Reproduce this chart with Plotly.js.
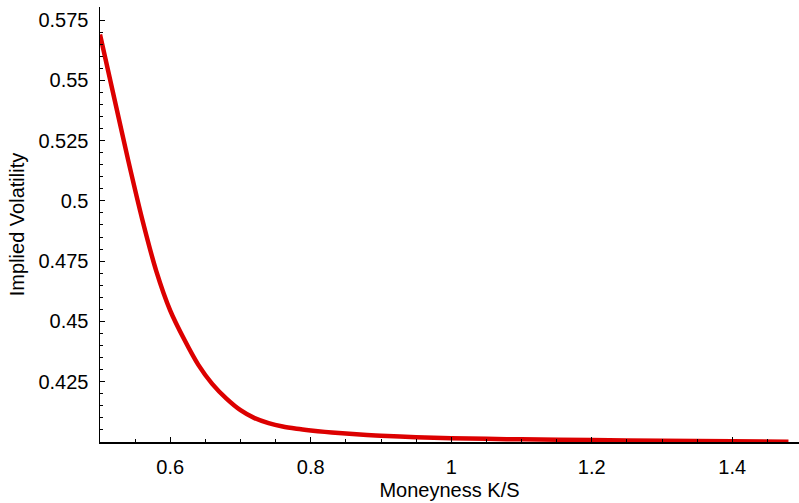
<!DOCTYPE html>
<html>
<head>
<meta charset="utf-8">
<script src="https://cdn.plot.ly/plotly-3.0.1.min.js"></script>
<style>html,body{margin:0;padding:0;background:#fff;}#chart{width:799px;height:503px;}</style>
</head>
<body>
<div id="chart"></div>
<script>
const moneyness = [0.50, 0.52, 0.54, 0.56, 0.58, 0.60, 0.62, 0.64, 0.66, 0.68, 0.70, 0.72, 0.74, 0.76, 0.78, 0.80, 0.82, 0.84, 0.86, 0.88, 0.90, 0.95, 1.00, 1.05, 1.10, 1.20, 1.30, 1.40, 1.48];
const impliedVol = [0.5690, 0.5430, 0.5170, 0.4925, 0.4710, 0.4545, 0.4425, 0.4320, 0.4240, 0.4180, 0.4132, 0.4099, 0.4078, 0.4064, 0.4055, 0.4048, 0.4042, 0.4037, 0.4033, 0.4029, 0.4026, 0.4020, 0.4016, 0.4013, 0.4011, 0.4008, 0.4005, 0.4003, 0.4001];
const xTickVals = [0.6, 0.8, 1.0, 1.2, 1.4];
const xTickText = ["0.6", "0.8", "1", "1.2", "1.4"];
const yTickVals = [0.425, 0.45, 0.475, 0.5, 0.525, 0.55, 0.575];
const yTickText = ["0.425", "0.45", "0.475", "0.5", "0.525", "0.55", "0.575"];

const font = "Liberation Sans, Arial, sans-serif";
const trace = {
  x: moneyness, y: impliedVol, type: 'scatter', mode: 'lines',
  line: {color: 'rgb(220,0,0)', width: 4.5, shape: 'spline', smoothing: 0.8},
  hoverinfo: 'skip'
};
const layout = {
  width: 799, height: 503,
  margin: {l: 100, r: 0, t: 7, b: 61},
  paper_bgcolor: '#fff', plot_bgcolor: '#fff',
  showlegend: false,
  font: {family: font, size: 20, color: '#000'},
  xaxis: {
    range: [0.5, 1.495], showgrid: false, zeroline: false,
    showline: true, linecolor: '#000', linewidth: 1.5,
    ticks: 'inside', ticklen: 5, tickwidth: 1, tickcolor: '#000',
    tickvals: xTickVals, ticktext: xTickText,
    tickfont: {family: font, size: 20, color: '#000'},
    ticklabelstandoff: 6,
    minor: {dtick: 0.05, tick0: 0.5, ticks: 'inside', ticklen: 3, tickwidth: 1, tickcolor: '#000', showgrid: false},
    title: {text: 'Moneyness K/S', font: {family: font, size: 20, color: '#000'}, standoff: 6}
  },
  yaxis: {
    range: [0.4, 0.5804], showgrid: false, zeroline: false,
    showline: true, linecolor: '#000', linewidth: 1.5,
    ticks: 'inside', ticklen: 5, tickwidth: 1, tickcolor: '#000',
    tickvals: yTickVals, ticktext: yTickText,
    tickfont: {family: font, size: 20, color: '#000'},
    ticklabelstandoff: 6,
    minor: {dtick: 0.005, tick0: 0.4, ticks: 'inside', ticklen: 3, tickwidth: 1, tickcolor: '#000', showgrid: false},
    title: {text: 'Implied Volatility', font: {family: font, size: 20, color: '#000'}, standoff: 8}
  }
};
Plotly.newPlot('chart', [trace], layout, {displayModeBar: false, staticPlot: true});
</script>
</body>
</html>
